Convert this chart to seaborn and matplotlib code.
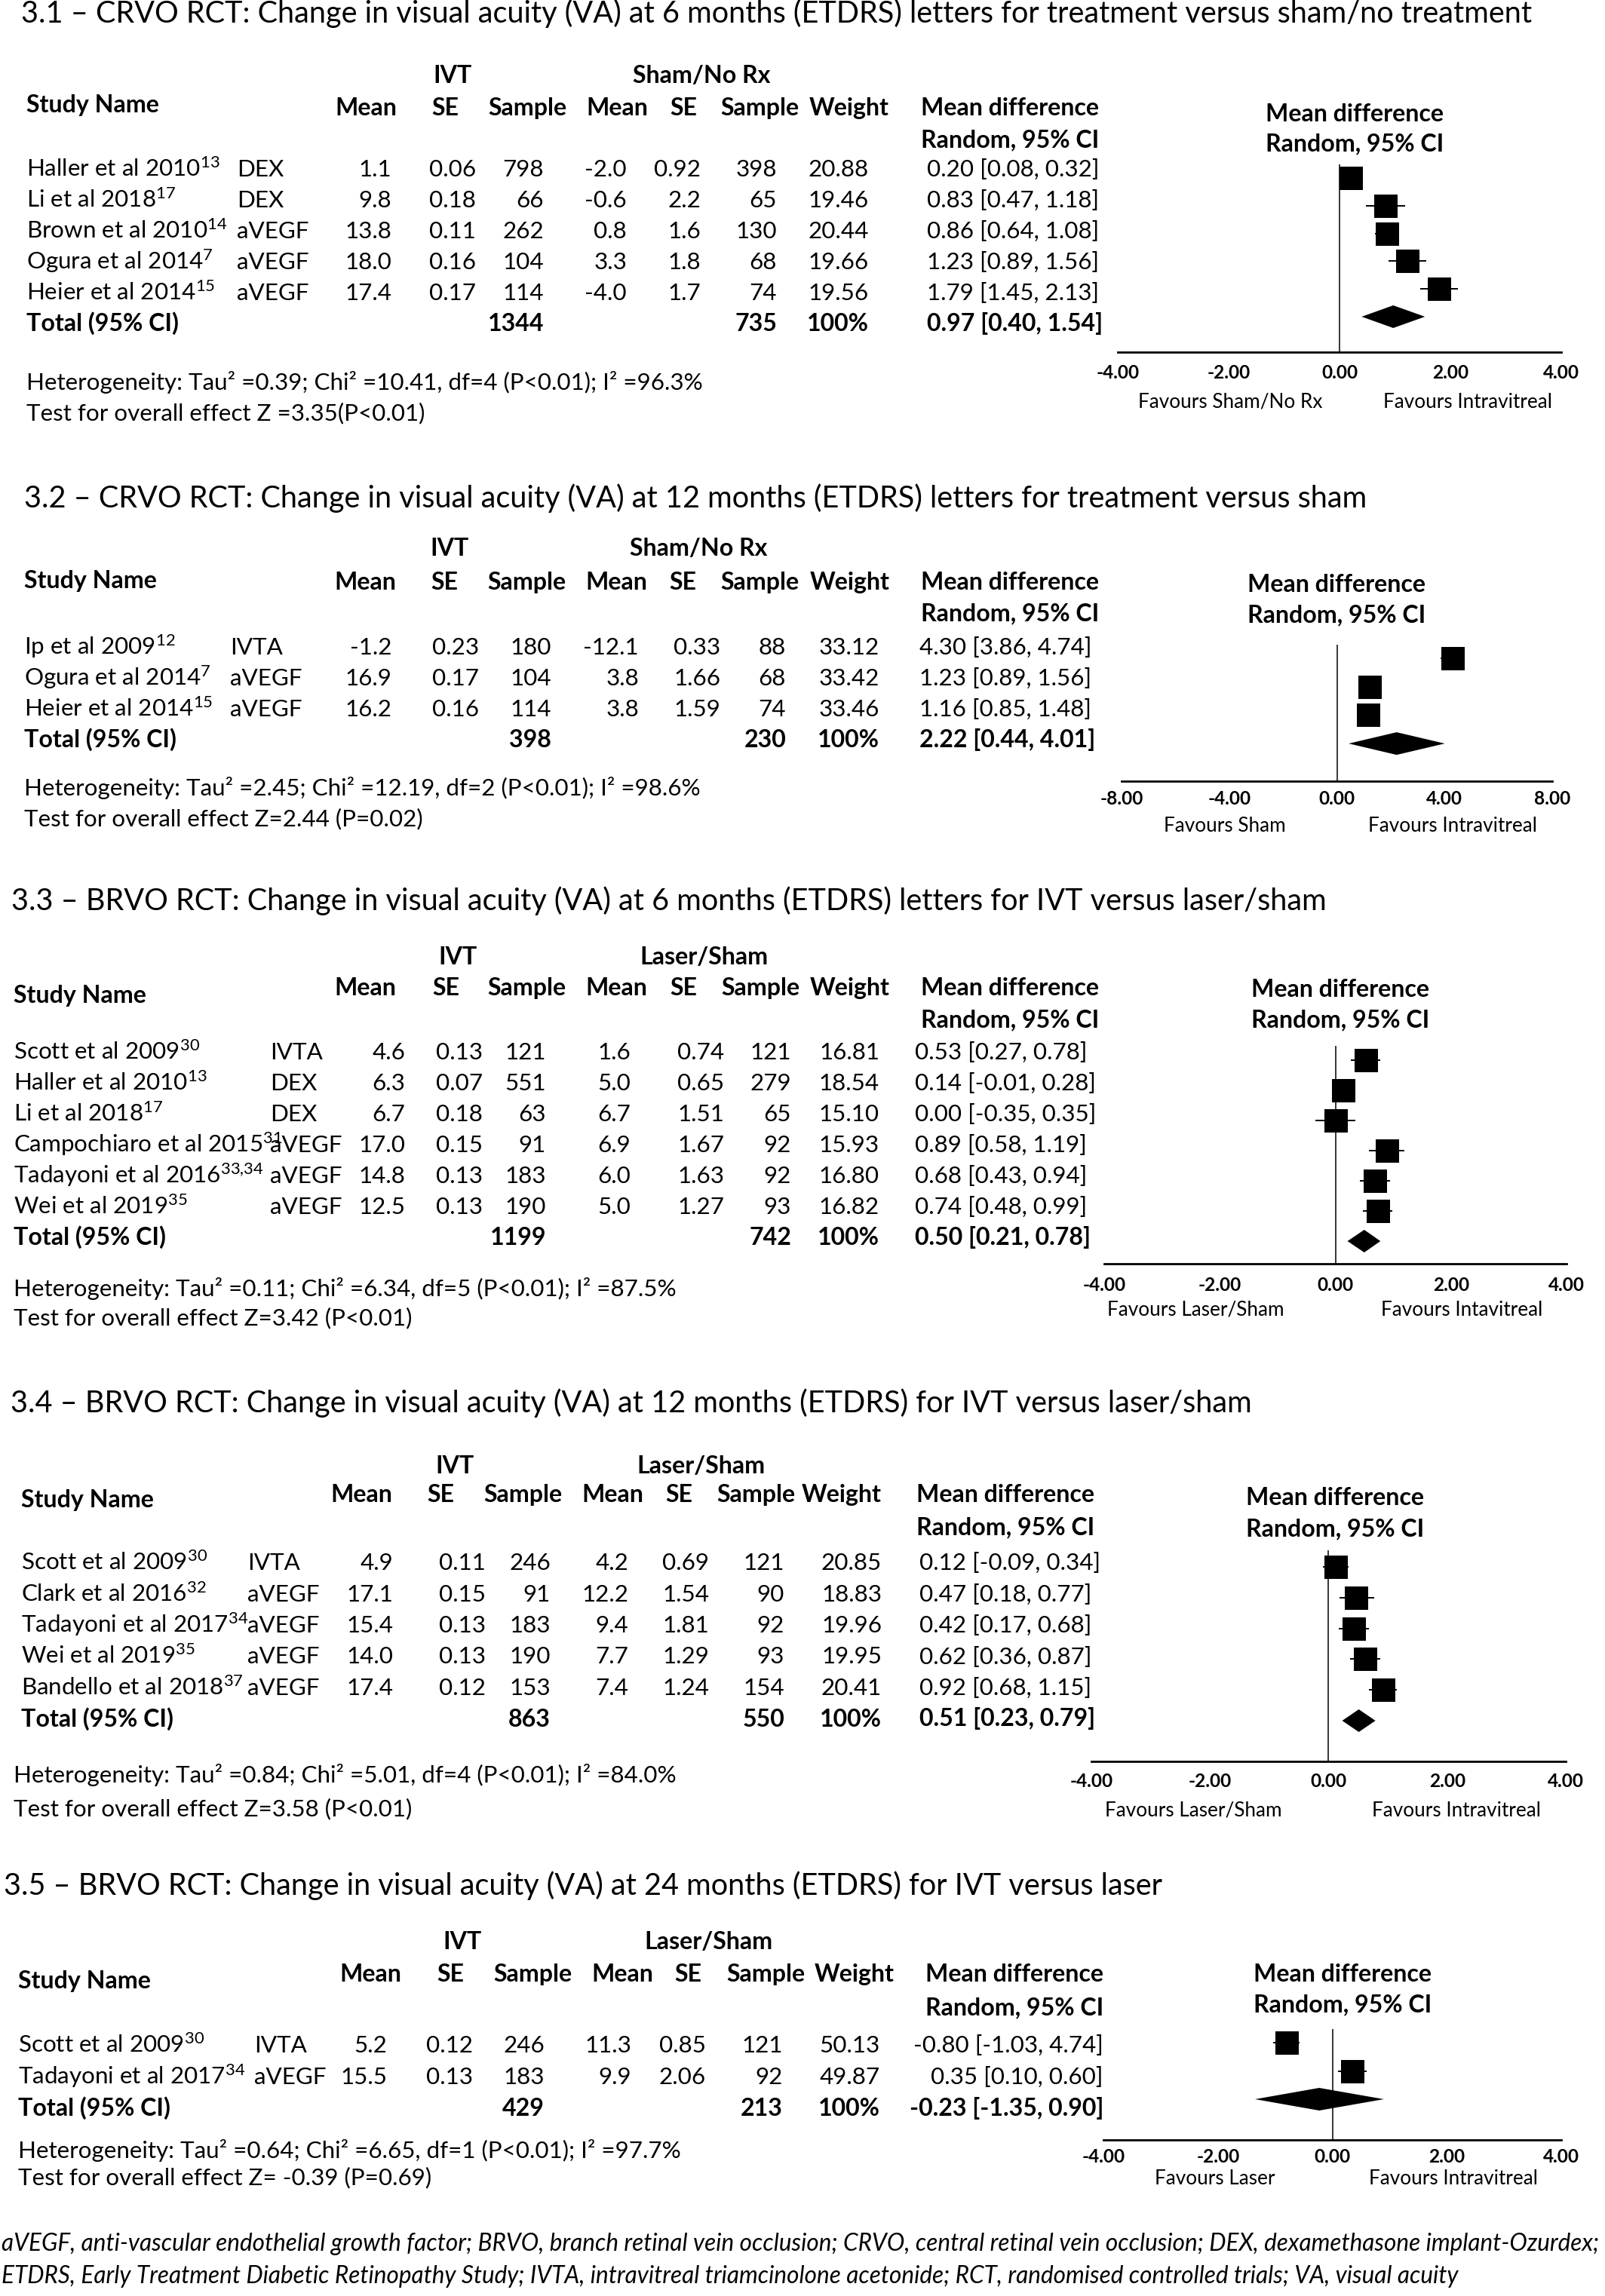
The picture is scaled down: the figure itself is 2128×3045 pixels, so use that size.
import matplotlib
matplotlib.use("Agg")
import matplotlib.pyplot as plt
import seaborn as sns

W, H = 2128, 3045
DPI = 100
PT = 72 / DPI  # points per pixel

# -----------------------------
# Data
# -----------------------------
title_31 = "3.1 – CRVO RCT: Change in visual acuity (VA) at 6 months (ETDRS) letters for treatment versus sham/no treatment"
studies_31 = ["Haller et al 2010$^{13}$", "Li et al 2018$^{17}$", "Brown et al 2010$^{14}$",
              "Ogura et al 2014$^{7}$", "Heier et al 2014$^{15}$"]
drugs_31 = ["DEX", "DEX", "aVEGF", "aVEGF", "aVEGF"]
ivt_mean_31 = ["1.1", "9.8", "13.8", "18.0", "17.4"]
ivt_se_31 = ["0.06", "0.18", "0.11", "0.16", "0.17"]
ivt_n_31 = [798, 66, 262, 104, 114]
ctl_mean_31 = ["-2.0", "-0.6", "0.8", "3.3", "-4.0"]
ctl_se_31 = ["0.92", "2.2", "1.6", "1.8", "1.7"]
ctl_n_31 = [398, 65, 130, 68, 74]
weight_31 = ["20.88", "19.46", "20.44", "19.66", "19.56"]
md_31 = [0.20, 0.83, 0.86, 1.23, 1.79]
lo_31 = [0.08, 0.47, 0.64, 0.89, 1.45]
hi_31 = [0.32, 1.18, 1.08, 1.56, 2.13]
total_31 = [1344, 735, 0.97, 0.40, 1.54]
het_31 = "Heterogeneity: Tau² =0.39; Chi² =10.41, df=4 (P<0.01); I² =96.3%"
z_31 = "Test for overall effect Z =3.35(P<0.01)"
fav_31 = ["Favours Sham/No Rx", "Favours Intravitreal"]
ticks_31 = [-4, -2, 0, 2, 4]

title_32 = "3.2 – CRVO RCT: Change in visual acuity (VA) at 12 months (ETDRS) letters for treatment versus sham"
studies_32 = ["Ip et al 2009$^{12}$", "Ogura et al 2014$^{7}$", "Heier et al 2014$^{15}$"]
drugs_32 = ["IVTA", "aVEGF", "aVEGF"]
ivt_mean_32 = ["-1.2", "16.9", "16.2"]
ivt_se_32 = ["0.23", "0.17", "0.16"]
ivt_n_32 = [180, 104, 114]
ctl_mean_32 = ["-12.1", "3.8", "3.8"]
ctl_se_32 = ["0.33", "1.66", "1.59"]
ctl_n_32 = [88, 68, 74]
weight_32 = ["33.12", "33.42", "33.46"]
md_32 = [4.30, 1.23, 1.16]
lo_32 = [3.86, 0.89, 0.85]
hi_32 = [4.74, 1.56, 1.48]
total_32 = [398, 230, 2.22, 0.44, 4.01]
het_32 = "Heterogeneity: Tau² =2.45; Chi² =12.19, df=2 (P<0.01); I² =98.6%"
z_32 = "Test for overall effect Z=2.44 (P=0.02)"
fav_32 = ["Favours Sham", "Favours Intravitreal"]
ticks_32 = [-8, -4, 0, 4, 8]

title_33 = "3.3 – BRVO RCT: Change in visual acuity (VA) at 6 months (ETDRS) letters for IVT versus laser/sham"
studies_33 = ["Scott et al 2009$^{30}$", "Haller et al 2010$^{13}$", "Li et al 2018$^{17}$",
              "Campochiaro et al 2015$^{31}$", "Tadayoni et al 2016$^{33{,}34}$", "Wei et al 2019$^{35}$"]
drugs_33 = ["IVTA", "DEX", "DEX", "aVEGF", "aVEGF", "aVEGF"]
ivt_mean_33 = ["4.6", "6.3", "6.7", "17.0", "14.8", "12.5"]
ivt_se_33 = ["0.13", "0.07", "0.18", "0.15", "0.13", "0.13"]
ivt_n_33 = [121, 551, 63, 91, 183, 190]
ctl_mean_33 = ["1.6", "5.0", "6.7", "6.9", "6.0", "5.0"]
ctl_se_33 = ["0.74", "0.65", "1.51", "1.67", "1.63", "1.27"]
ctl_n_33 = [121, 279, 65, 92, 92, 93]
weight_33 = ["16.81", "18.54", "15.10", "15.93", "16.80", "16.82"]
md_33 = [0.53, 0.14, 0.00, 0.89, 0.68, 0.74]
lo_33 = [0.27, -0.01, -0.35, 0.58, 0.43, 0.48]
hi_33 = [0.78, 0.28, 0.35, 1.19, 0.94, 0.99]
total_33 = [1199, 742, 0.50, 0.21, 0.78]
het_33 = "Heterogeneity: Tau² =0.11; Chi² =6.34, df=5 (P<0.01); I² =87.5%"
z_33 = "Test for overall effect Z=3.42 (P<0.01)"
fav_33 = ["Favours Laser/Sham", "Favours Intavitreal"]
ticks_33 = [-4, -2, 0, 2, 4]

title_34 = "3.4 – BRVO RCT: Change in visual acuity (VA) at 12 months (ETDRS) for IVT versus laser/sham"
studies_34 = ["Scott et al 2009$^{30}$", "Clark et al 2016$^{32}$", "Tadayoni et al 2017$^{34}$",
              "Wei et al 2019$^{35}$", "Bandello et al 2018$^{37}$"]
drugs_34 = ["IVTA", "aVEGF", "aVEGF", "aVEGF", "aVEGF"]
ivt_mean_34 = ["4.9", "17.1", "15.4", "14.0", "17.4"]
ivt_se_34 = ["0.11", "0.15", "0.13", "0.13", "0.12"]
ivt_n_34 = [246, 91, 183, 190, 153]
ctl_mean_34 = ["4.2", "12.2", "9.4", "7.7", "7.4"]
ctl_se_34 = ["0.69", "1.54", "1.81", "1.29", "1.24"]
ctl_n_34 = [121, 90, 92, 93, 154]
weight_34 = ["20.85", "18.83", "19.96", "19.95", "20.41"]
md_34 = [0.12, 0.47, 0.42, 0.62, 0.92]
lo_34 = [-0.09, 0.18, 0.17, 0.36, 0.68]
hi_34 = [0.34, 0.77, 0.68, 0.87, 1.15]
total_34 = [863, 550, 0.51, 0.23, 0.79]
het_34 = "Heterogeneity: Tau² =0.84; Chi² =5.01, df=4 (P<0.01); I² =84.0%"
z_34 = "Test for overall effect Z=3.58 (P<0.01)"
fav_34 = ["Favours Laser/Sham", "Favours Intravitreal"]
ticks_34 = [-4, -2, 0, 2, 4]

title_35 = "3.5 – BRVO RCT: Change in visual acuity (VA) at 24 months (ETDRS) for IVT versus laser"
studies_35 = ["Scott et al 2009$^{30}$", "Tadayoni et al 2017$^{34}$"]
drugs_35 = ["IVTA", "aVEGF"]
ivt_mean_35 = ["5.2", "15.5"]
ivt_se_35 = ["0.12", "0.13"]
ivt_n_35 = [246, 183]
ctl_mean_35 = ["11.3", "9.9"]
ctl_se_35 = ["0.85", "2.06"]
ctl_n_35 = [121, 92]
weight_35 = ["50.13", "49.87"]
md_35 = [-0.80, 0.35]
lo_35 = [-1.03, 0.10]
hi_35 = [4.74, 0.60]
# the printed upper limit 4.74 is not what is drawn: the plotted whisker stops near -0.57
hi_drawn_35 = [-0.57, 0.60]
total_35 = [429, 213, -0.23, -1.35, 0.90]
het_35 = "Heterogeneity: Tau² =0.64; Chi² =6.65, df=1 (P<0.01); I² =97.7%"
z_35 = "Test for overall effect Z= -0.39 (P=0.69)"
fav_35 = ["Favours Laser", "Favours Intravitreal"]
ticks_35 = [-4, -2, 0, 2, 4]

notes = ["aVEGF, anti-vascular endothelial growth factor; BRVO, branch retinal vein occlusion; "
         "CRVO, central retinal vein occlusion; DEX, dexamethasone implant-Ozurdex;",
         "ETDRS, Early Treatment Diabetic Retinopathy Study; IVTA, intravitreal triamcinolone acetonide; "
         "RCT, randomised controlled trials; VA, visual acuity"]

col_heads = ["Mean", "SE", "Sample", "Mean", "SE", "Sample", "Weight"]

panels = [
    dict(title=title_31, ctl="Sham/No Rx", studies=studies_31, drugs=drugs_31,
         cols=[ivt_mean_31, ivt_se_31, ivt_n_31, ctl_mean_31, ctl_se_31, ctl_n_31, weight_31],
         md=md_31, lo=lo_31, hi=hi_31, hi_drawn=hi_31, total=total_31,
         het=het_31, z=z_31, fav=fav_31, ticks=ticks_31),
    dict(title=title_32, ctl="Sham/No Rx", studies=studies_32, drugs=drugs_32,
         cols=[ivt_mean_32, ivt_se_32, ivt_n_32, ctl_mean_32, ctl_se_32, ctl_n_32, weight_32],
         md=md_32, lo=lo_32, hi=hi_32, hi_drawn=hi_32, total=total_32,
         het=het_32, z=z_32, fav=fav_32, ticks=ticks_32),
    dict(title=title_33, ctl="Laser/Sham", studies=studies_33, drugs=drugs_33,
         cols=[ivt_mean_33, ivt_se_33, ivt_n_33, ctl_mean_33, ctl_se_33, ctl_n_33, weight_33],
         md=md_33, lo=lo_33, hi=hi_33, hi_drawn=hi_33, total=total_33,
         het=het_33, z=z_33, fav=fav_33, ticks=ticks_33),
    dict(title=title_34, ctl="Laser/Sham", studies=studies_34, drugs=drugs_34,
         cols=[ivt_mean_34, ivt_se_34, ivt_n_34, ctl_mean_34, ctl_se_34, ctl_n_34, weight_34],
         md=md_34, lo=lo_34, hi=hi_34, hi_drawn=hi_34, total=total_34,
         het=het_34, z=z_34, fav=fav_34, ticks=ticks_34),
    dict(title=title_35, ctl="Laser/Sham", studies=studies_35, drugs=drugs_35,
         cols=[ivt_mean_35, ivt_se_35, ivt_n_35, ctl_mean_35, ctl_se_35, ctl_n_35, weight_35],
         md=md_35, lo=lo_35, hi=hi_35, hi_drawn=hi_drawn_35, total=total_35,
         het=het_35, z=z_35, fav=fav_35, ticks=ticks_35),
]

# -----------------------------
# Layout (pixel positions in the 2128x3045 canvas, y = baselines)
# -----------------------------
layout = [
    dict(title=(28, 30), grp_y=110, ivt_cx=600, ctl_cx=930, head_y=153, study_y=149, name_x=35,
         head_cx=[485, 590, 699, 818, 906, 1007, 1126], val_rx=[519, 631, 721, 831, 929, 1030, 1152],
         drug_x=314, mdh_x=1457, ci_y=195, md_x=1229, md_ha="left", row0=234, dy=41,
         het_x=35, het_y=517, z_y=557,
         ax_x=(1482, 2070), axis_y=467, vtop=218, frow0=236, fdy=36.8,
         fh_x=1678, fh_y=(161, 200), tick_y=502, fav_y=541, fav_cx=(1631, 1946)),
    dict(title=(32, 673), grp_y=737, ivt_cx=596, ctl_cx=926, head_y=782, study_y=780, name_x=32,
         head_cx=[484, 589, 698, 817, 905, 1007, 1127], val_rx=[519, 635, 731, 847, 955, 1042, 1166],
         drug_x=305, mdh_x=1457, ci_y=823, md_x=1219, md_ha="left", row0=868, dy=41,
         het_x=32, het_y=1055, z_y=1095,
         ax_x=(1487, 2058), axis_y=1036, vtop=855, frow0=873, fdy=37.7,
         fh_x=1654, fh_y=(785, 825), tick_y=1067, fav_y=1103, fav_cx=(1624, 1926)),
    dict(title=(15, 1207), grp_y=1279, ivt_cx=607, ctl_cx=933, head_y=1320, study_y=1330, name_x=18,
         head_cx=[484, 591, 698, 817, 906, 1008, 1127], val_rx=[537, 640, 724, 836, 960, 1049, 1166],
         drug_x=358, mdh_x=1457, ci_y=1362, md_x=1213, md_ha="left", row0=1405, dy=41,
         het_x=18, het_y=1719, z_y=1757,
         ax_x=(1464, 2077), axis_y=1676, vtop=1387, frow0=1406, fdy=40,
         fh_x=1659, fh_y=(1322, 1362), tick_y=1712, fav_y=1745, fav_cx=(1585, 1938)),
    dict(title=(14, 1873), grp_y=1954, ivt_cx=603, ctl_cx=929, head_y=1992, study_y=1999, name_x=28,
         head_cx=[479, 584, 693, 812, 900, 1002, 1116], val_rx=[521, 644, 730, 833, 940, 1040, 1169],
         drug_x=328, mdh_x=1451, ci_y=2035, md_x=1219, md_ha="left", row0=2082, dy=41.5,
         het_x=18, het_y=2364, z_y=2408,
         ax_x=(1447, 2076), axis_y=2336, vtop=2056, frow0=2078, fdy=40.8,
         fh_x=1652, fh_y=(1996, 2037), tick_y=2370, fav_y=2409, fav_cx=(1582, 1931)),
    dict(title=(5, 2513), grp_y=2585, ivt_cx=613, ctl_cx=939, head_y=2628, study_y=2637, name_x=24,
         head_cx=[491, 597, 706, 825, 912, 1015, 1133], val_rx=[513, 627, 722, 837, 936, 1038, 1167],
         drug_x=337, mdh_x=1463, ci_y=2672, md_x=1463, md_ha="right", row0=2722, dy=42,
         het_x=24, het_y=2862, z_y=2897,
         ax_x=(1463, 2070), axis_y=2838, vtop=2691, frow0=2709, fdy=37.5,
         fh_x=1662, fh_y=(2628, 2668), tick_y=2868, fav_y=2897, fav_cx=(1611, 1927)),
]

# -----------------------------
# Style
# -----------------------------
sns.set_style("white")
plt.rcParams["font.family"] = ["Lato", "DejaVu Sans"]
plt.rcParams["mathtext.default"] = "regular"
tick_family = ["Liberation Sans Narrow", "Lato", "DejaVu Sans"]

fig = plt.figure(figsize=(W / DPI, H / DPI), dpi=DPI)
bg = fig.add_axes([0, 0, 1, 1])
bg.set_xlim(0, W)
bg.set_ylim(H, 0)
bg.axis("off")
renderer = fig.canvas.get_renderer()


def fit_size(text, width, **kw):
    # font size (pt) that makes `text` span `width` pixels
    t = bg.text(0, 0, text, fontsize=20, **kw)
    w = t.get_window_extent(renderer).width
    t.remove()
    return 20 * width / w


TITLE_FS = fit_size(title_31, 2006)
BODY_FS = fit_size(het_31, 898)
HEAD_FS = fit_size("Study Name", 176, weight="bold")
FAV_FS = fit_size(fav_31[0], 244)
TICK_FS = fit_size("-4.00", 58, weight="bold", family=tick_family)
NOTE_FS = fit_size(notes[0], 2118, style="italic")

SQ = (31 * PT) ** 2  # square marker area, about 31 px a side

body = dict(fontsize=BODY_FS, color="black")
bold = dict(fontsize=HEAD_FS, weight="bold", color="black")


def ci_text(m, lo, hi):
    return f"{m:.2f} [{lo:.2f}, {hi:.2f}]"


# -----------------------------
# Draw each panel
# -----------------------------
for D, L in zip(panels, layout):
    n = len(D["studies"])

    # titles and headers
    bg.text(L["title"][0], L["title"][1], D["title"], fontsize=TITLE_FS, color="black")
    bg.text(L["ivt_cx"], L["grp_y"], "IVT", ha="center", **bold)
    bg.text(L["ctl_cx"], L["grp_y"], D["ctl"], ha="center", **bold)
    bg.text(L["name_x"], L["study_y"], "Study Name", **bold)
    for lab, cx in zip(col_heads, L["head_cx"]):
        bg.text(cx, L["head_y"], lab, ha="center", **bold)
    bg.text(L["mdh_x"], L["head_y"], "Mean difference", ha="right", **bold)
    bg.text(L["mdh_x"], L["ci_y"], "Random, 95% CI", ha="right", **bold)
    bg.text(L["fh_x"], L["fh_y"][0], "Mean difference", **bold)
    bg.text(L["fh_x"], L["fh_y"][1], "Random, 95% CI", **bold)

    # study rows
    for i in range(n):
        y = L["row0"] + i * L["dy"]
        bg.text(L["name_x"], y, D["studies"][i], **body)
        bg.text(L["drug_x"], y, D["drugs"][i], **body)
        for col, rx in zip(D["cols"], L["val_rx"]):
            bg.text(rx, y, str(col[i]), ha="right", **body)
        bg.text(L["md_x"], y, ci_text(D["md"][i], D["lo"][i], D["hi"][i]), ha=L["md_ha"], **body)

    # total row
    y = L["row0"] + n * L["dy"]
    n_ivt, n_ctl, t_md, t_lo, t_hi = D["total"]
    bg.text(L["name_x"], y, "Total (95% CI)", **bold)
    bg.text(L["val_rx"][2], y, str(n_ivt), ha="right", **bold)
    bg.text(L["val_rx"][5], y, str(n_ctl), ha="right", **bold)
    bg.text(L["val_rx"][6], y, "100%", ha="right", **bold)
    bg.text(L["md_x"], y, ci_text(t_md, t_lo, t_hi), ha=L["md_ha"], **bold)

    bg.text(L["het_x"], L["het_y"], D["het"], **body)
    bg.text(L["het_x"], L["z_y"], D["z"], **body)

    # forest plot axes
    x0, x1 = L["ax_x"]
    ax = fig.add_axes([x0 / W, 1 - L["axis_y"] / H, (x1 - x0) / W, (L["axis_y"] - L["vtop"]) / H])
    ax.set_facecolor("none")
    lim = max(D["ticks"])
    ax.set_xlim(-lim, lim)
    ax.set_ylim((L["axis_y"] - L["frow0"]) / L["fdy"], (L["vtop"] - L["frow0"]) / L["fdy"])

    rows = list(range(n))
    ax.axvline(0, color="black", lw=1.1)
    ax.hlines(rows, D["lo"], D["hi_drawn"], color="black", lw=1.4)
    sns.scatterplot(x=D["md"], y=rows, marker="s", s=SQ, color="black",
                    linewidth=0, ax=ax, legend=False, zorder=3)

    half = 15 / L["fdy"]
    ax.fill([t_lo, t_md, t_hi, t_md], [n, n - half, n, n + half], color="black", lw=0)

    for side in ["top", "left", "right"]:
        ax.spines[side].set_visible(False)
    ax.spines["bottom"].set_linewidth(2.0)
    ax.spines["bottom"].set_color("black")
    ax.set_yticks([])
    ax.set_xticks(D["ticks"])
    ax.set_xticklabels([f"{t:.2f}" for t in D["ticks"]])
    ax.tick_params(axis="x", length=0, pad=(L["tick_y"] - L["axis_y"]) * PT,
                   labelsize=TICK_FS, labelcolor="black")
    for lab in ax.get_xticklabels():
        lab.set_va("baseline")
        lab.set_fontweight("bold")
        lab.set_family(tick_family)
    ax.set_xlabel("")
    ax.set_ylabel("")

    bg.text(L["fav_cx"][0], L["fav_y"], D["fav"][0], ha="center", fontsize=FAV_FS, color="black")
    bg.text(L["fav_cx"][1], L["fav_y"], D["fav"][1], ha="center", fontsize=FAV_FS, color="black")

# footnote
bg.text(2, 2985, notes[0], style="italic", fontsize=NOTE_FS, color="black")
bg.text(2, 3028, notes[1], style="italic", fontsize=NOTE_FS, color="black")

fig.savefig("out.png", dpi=DPI)
plt.close(fig)
